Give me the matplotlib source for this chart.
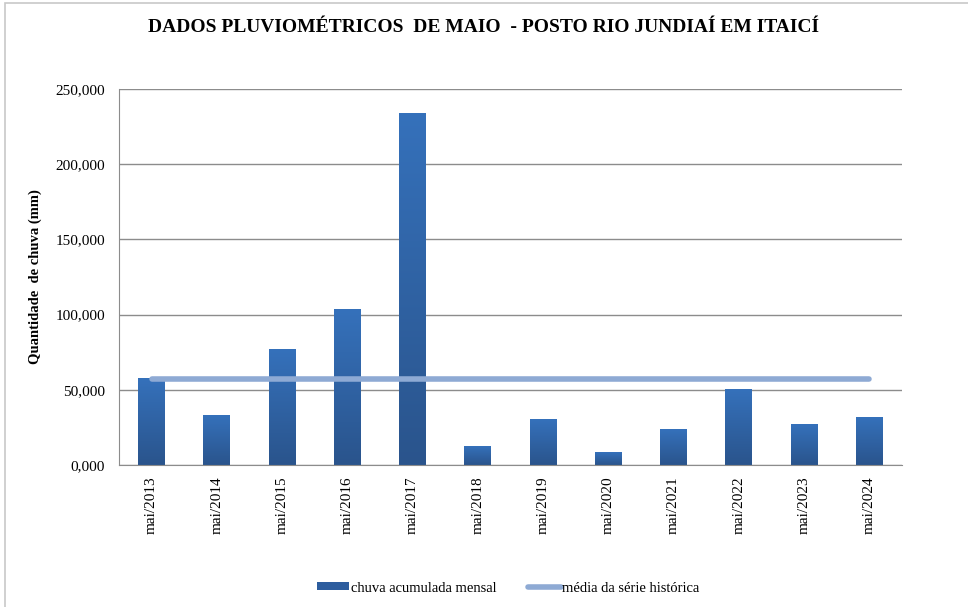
import numpy as np
import matplotlib.pyplot as plt
from matplotlib.patches import Rectangle
from matplotlib.colors import LinearSegmentedColormap
from matplotlib.lines import Line2D

# May rainfall, posto Rio Jundiai em Itaici (mm)
years = ["mai/2013", "mai/2014", "mai/2015", "mai/2016", "mai/2017", "mai/2018",
         "mai/2019", "mai/2020", "mai/2021", "mai/2022", "mai/2023", "mai/2024"]
chuva = [57.2, 32.6, 76.9, 103.5, 233.4, 12.6, 30.4, 8.0, 23.3, 49.9, 26.6, 31.9]
media = [57.2] * len(years)
yticks = [0, 50, 100, 150, 200, 250]


def fmt_br(v):
    return "{0:,.3f}".format(v).replace(",", "X").replace(".", ",").replace("X", ".")


def main():
    plt.rcParams['font.family'] = ['Liberation Serif', 'DejaVu Serif']

    fig = plt.figure(figsize=(9.68, 6.07), dpi=100)
    # outer frame of the chart area
    fig.patches.append(Rectangle((5 / 968, -0.01), 1.0, 1 - 3 / 607 + 0.01,
                                 transform=fig.transFigure, fill=False,
                                 edgecolor='#c8c8c8', linewidth=1.2))

    ax = fig.add_axes([119 / 968, 1 - 465 / 607, 783 / 968, 376 / 607])
    x = np.arange(len(years))
    w = 0.41

    # bars with vertical gradient
    cmap = LinearSegmentedColormap.from_list('bar', ['#2a548c', '#3571bb'])
    grad = np.linspace(0, 1, 256).reshape(-1, 1)
    for xi, v in zip(x, chuva):
        ax.imshow(grad, extent=(xi - w / 2, xi + w / 2, 0, v), origin='lower',
                  cmap=cmap, aspect='auto', zorder=2)

    ax.plot(x, media, color='#8eaad4', linewidth=4, solid_capstyle='round', zorder=3)

    ax.set_xlim(-0.5, len(years) - 0.5)
    ax.set_ylim(0, 250)
    ax.set_yticks(yticks)
    ax.set_yticklabels([fmt_br(v) for v in yticks], fontsize=11)
    ax.set_xticks(x)
    ax.set_xticklabels(years, rotation=90, fontsize=11)
    ax.tick_params(length=0, pad=8)
    ax.tick_params(axis='y', pad=10)

    ax.grid(axis='y', color='#8c8c8c', linewidth=1)
    ax.set_axisbelow(True)
    for s in ['top', 'right']:
        ax.spines[s].set_visible(False)
    ax.spines['left'].set_color('#8c8c8c')
    ax.spines['bottom'].set_color('#8c8c8c')

    ax.set_ylabel('Quantidade  de chuva (mm)', fontsize=10.5, fontweight='bold', labelpad=10)

    fig.text(0.4995, 1 - 28 / 607, 'DADOS PLUVIOMÉTRICOS  DE MAIO  - POSTO RIO JUNDIAÍ EM ITAICÍ',
             ha='center', va='center', fontsize=14, fontweight='bold',
             family='Liberation Serif')

    handles = [Rectangle((0, 0), 1, 1, facecolor='#2d5d9e'),
               Line2D([0], [0], color='#8eaad4', linewidth=4, solid_capstyle='round')]
    fig.legend(handles, ['chuva acumulada mensal', 'média da série histórica'],
               loc='center', bbox_to_anchor=(0.525, 1 - 588 / 607), ncol=2,
               frameon=False, fontsize=10.5, handlelength=2.2, handleheight=0.5,
               handletextpad=0.1, columnspacing=2.2)

    fig.savefig('out.png', dpi=100)


if __name__ == "__main__":
    main()
